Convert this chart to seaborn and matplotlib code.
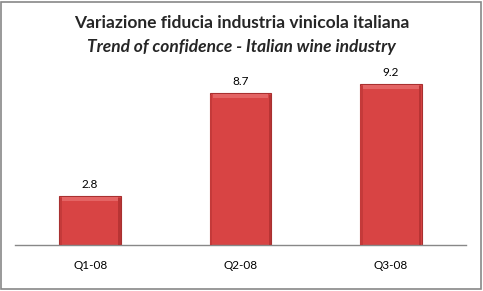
import matplotlib
matplotlib.use("Agg")
import matplotlib.pyplot as plt
import seaborn as sns
import pandas as pd
from matplotlib.patches import Rectangle

categories = ["Q1-08", "Q2-08", "Q3-08"]
values = [2.8, 8.7, 9.2]
title_it = "Variazione fiducia industria vinicola italiana"
title_en = "Trend of confidence - Italian wine industry"

df = pd.DataFrame({"quarter": categories, "value": values})

sns.set_style("white")
plt.rcParams['font.family'] = ['Lato', 'DejaVu Sans']

W, H = 483, 291
fig = plt.figure(figsize=(W / 100, H / 100), dpi=100)
ax = fig.add_axes([15 / W, (H - 245) / H, 451 / W, 175 / H])

sns.barplot(data=df, x="quarter", y="value", ax=ax, color="#D84444",
            width=0.41, saturation=1, edgecolor="#A83030", linewidth=0.8)

for p in ax.patches:
    x0 = p.get_x(); w = p.get_width(); h = p.get_height()
    # bevel highlight on top and darker sides
    ax.add_patch(Rectangle((x0 + w * 0.05, h - 0.3), w * 0.9, 0.22,
                           facecolor="#E46464", edgecolor="none", zorder=3))
    ax.add_patch(Rectangle((x0 + w * 0.955, 0), w * 0.04, h - 0.1,
                           facecolor="#B83434", edgecolor="none", zorder=3))
    ax.add_patch(Rectangle((x0 + w * 0.005, 0), w * 0.04, h - 0.1,
                           facecolor="#C43A3A", edgecolor="none", zorder=3))

for i, v in enumerate(values):
    ax.text(i, v + 0.35, f"{v}", ha="center", va="bottom", fontsize=8.5, color="black")

ax.set_xlim(-0.5, 2.5)
ax.set_ylim(0, 10)
ax.set_xlabel("")
ax.set_ylabel("")
ax.set_yticks([])
for s in ["top", "left", "right"]:
    ax.spines[s].set_visible(False)
ax.spines["bottom"].set_color("#888888")
ax.spines["bottom"].set_linewidth(1)
ax.tick_params(axis="x", length=0, labelsize=8.5, pad=11, colors="black")

fig.text(0.5, 1 - 23 / H, title_it, ha="center", va="center", fontsize=12.5, fontweight="bold")
fig.text(0.5, 1 - 47 / H, title_en, ha="center", va="center", fontsize=12.5,
         fontstyle="italic", fontweight="bold")

fig.add_artist(Rectangle((1 / W, 2 / H), (W - 3) / W, (H - 4) / H, transform=fig.transFigure,
                         fill=False, edgecolor="#888888", linewidth=1.2))

fig.savefig("out.png", dpi=100)
